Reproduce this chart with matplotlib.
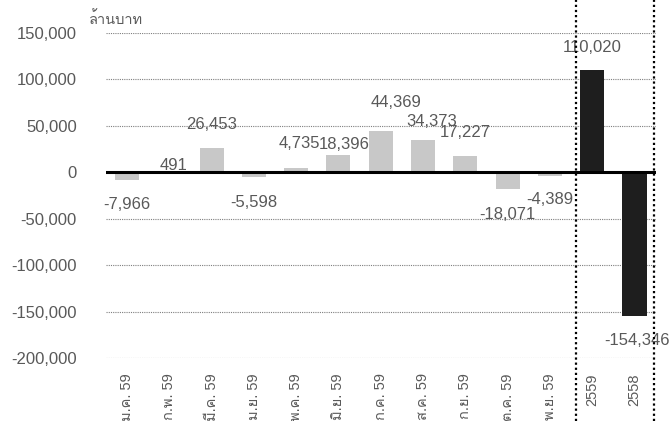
import matplotlib
matplotlib.use('Agg')
import matplotlib.pyplot as plt
from matplotlib.ticker import FuncFormatter, MultipleLocator

plt.rcParams['font.family'] = ['Liberation Sans', 'Loma', 'DejaVu Sans']

# ข้อมูล (ล้านบาท)
categories = ['ม.ค. 59', 'ก.พ. 59', 'มี.ค. 59', 'เม.ย. 59', 'พ.ค. 59', 'มิ.ย. 59',
              'ก.ค. 59', 'ส.ค. 59', 'ก.ย. 59', 'ต.ค. 59', 'พ.ย. 59', '2559', '2558']
values = [-7966, 491, 26453, -5598, 4735, 18396, 44369, 34373, 17227,
          -18071, -4389, 110020, -154346]
is_annual = [False] * 11 + [True, True]

# ตำแหน่งป้ายตัวเลข (พิกเซล จากปลายแท่ง)
label_dx = [0, 4, 0, 0, 3, 6, 15, 9, 0, 0, 0, 0, 3]
label_dy = [-25, 6, 23, -25, 24, 11, 29, 19, 24, -25, -23, 23, -25]

text_color = '#595959'
colors = ['#1e1e1e' if a else '#c8c8c8' for a in is_annual]

fig = plt.figure(figsize=(6.7, 4.21), dpi=100)
ax = fig.add_axes([0.158, 0.1496, 0.8205, 0.772])

x = list(range(len(categories)))
ax.bar(x, values, width=0.57, color=colors, zorder=2)

for xi, v, dx, dy in zip(x, values, label_dx, label_dy):
    ax.annotate(f'{v:,}', (xi, v), xytext=(dx, dy), textcoords='offset pixels',
                ha='center', va='center', fontsize=12, color=text_color, zorder=4)

ax.set_xlim(-0.5, len(categories) - 0.5)
ax.set_ylim(-200000, 150000)
ax.yaxis.set_major_locator(MultipleLocator(50000))
ax.yaxis.set_major_formatter(FuncFormatter(lambda v, p: f'{int(v):,}'))
ax.grid(axis='y', color='#7f7f7f', linestyle=(0, (1, 1)), linewidth=0.8, zorder=0)
ax.axhline(0, color='black', linewidth=2.2, zorder=3)

# เส้นแบ่งรายปี
for xv in [10.62, 12.47]:
    ax.axvline(xv, ymin=-0.194, ymax=1.102, color='black', linestyle=(0, (1, 1.3)),
               linewidth=1.6, clip_on=False, zorder=5)

for s in ax.spines.values():
    s.set_visible(False)
ax.tick_params(axis='both', length=0, colors=text_color, labelsize=12)
ax.tick_params(axis='y', pad=21)
ax.tick_params(axis='x', pad=11)
ax.set_xticks(x)
ax.set_xticklabels(categories, rotation=90, fontsize=10.5)

fig.text(0.173, 0.955, 'ล้านบาท', ha='center', va='center', fontsize=10.5, color=text_color)

fig.savefig('out.png')
